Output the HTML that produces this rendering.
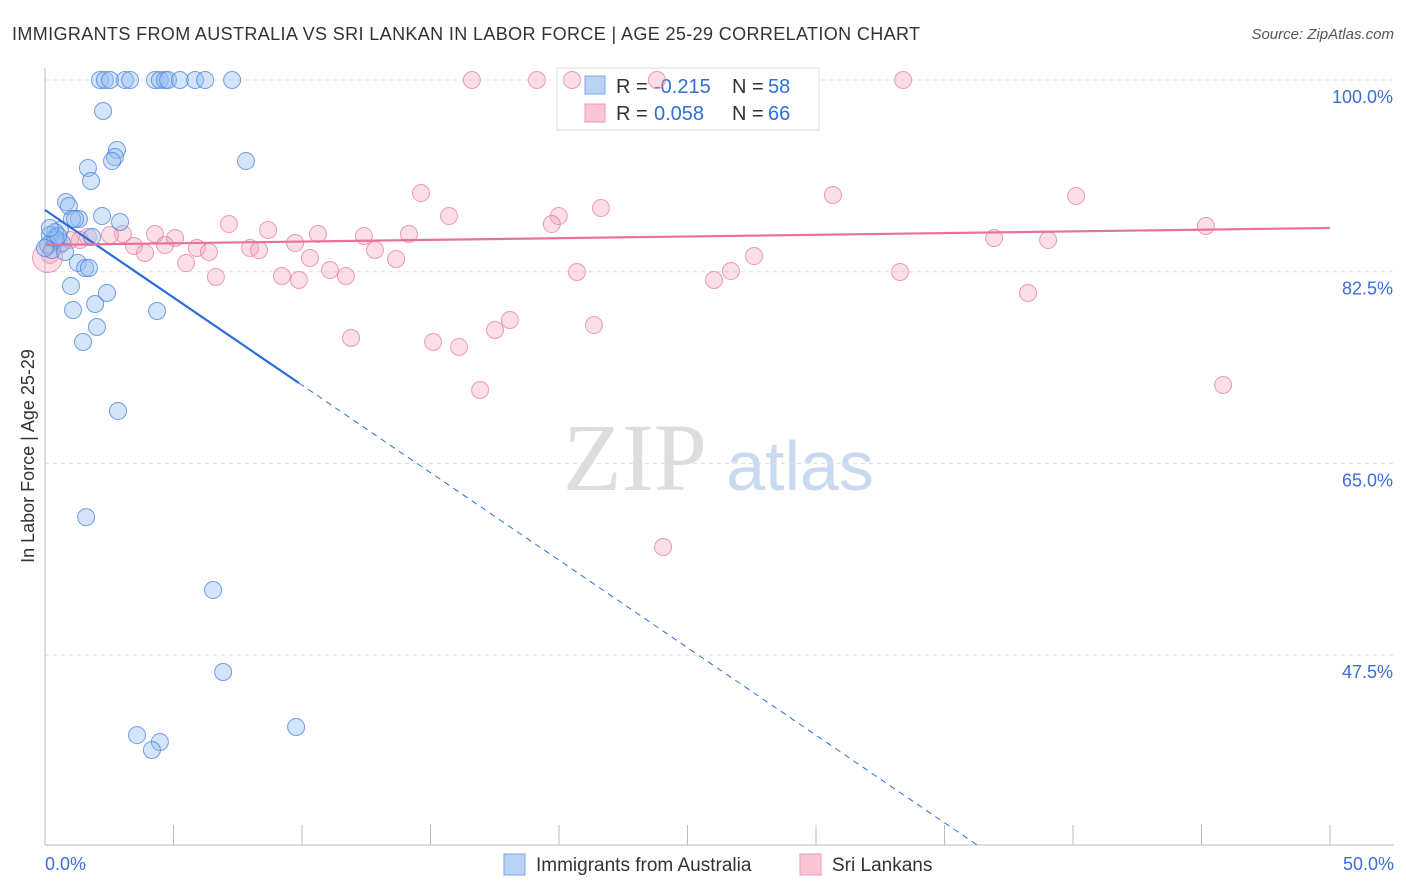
<!DOCTYPE html>
<html><head><meta charset="utf-8"><style>
body{margin:0;background:#fff;font-family:"Liberation Sans",sans-serif}
svg{display:block}
</style></head><body>
<svg id="c" width="1406" height="892">
<text x="12" y="40" font-size="18" fill="#333" textLength="908">IMMIGRANTS FROM AUSTRALIA VS SRI LANKAN IN LABOR FORCE | AGE 25-29 CORRELATION CHART</text>
<text x="1394" y="39" font-size="15" fill="#555" text-anchor="end" font-style="italic">Source: ZipAtlas.com</text>
<text x="635" y="490" font-size="96" fill="#ddd" font-family="Liberation Serif" text-anchor="middle">ZIP</text>
<text x="800" y="490" font-size="70" fill="#c9daf0" text-anchor="middle">atlas</text>
<text transform="translate(34,456) rotate(-90)" font-size="18" fill="#333" text-anchor="middle">In Labor Force | Age 25-29</text>
<g id="grid"></g>
<g>
<rect x="557" y="68" width="262" height="62" fill="#fff" stroke="#ddd"/>
<rect x="585" y="76" width="20" height="18" fill="#b8d3f5" stroke="#7aa7e6"/>
<rect x="585" y="104" width="20" height="18" fill="#f9c6d5" stroke="#ee99b3"/>
<text y="93" font-size="20" fill="#333"><tspan x="616">R =</tspan><tspan x="654" fill="#2f6fd6">-0.215</tspan><tspan x="732">N =</tspan><tspan x="768" fill="#2f6fd6">58</tspan></text>
<text y="120" font-size="20" fill="#333"><tspan x="616">R =</tspan><tspan x="654" fill="#2f6fd6">0.058</tspan><tspan x="732">N =</tspan><tspan x="768" fill="#2f6fd6">66</tspan></text>
</g>
<g id="marks"></g>
<g>
<rect x="504" y="854" width="21" height="21" fill="#b8d3f5" stroke="#7aa7e6"/>
<text x="536" y="871" font-size="19" fill="#333">Immigrants from Australia</text>
<rect x="800" y="854" width="21" height="21" fill="#f9c6d5" stroke="#ee99b3"/>
<text x="832" y="871" font-size="19" fill="#333">Sri Lankans</text>
</g>
</svg>
<script>
const yTicks=[100,82.5,65,47.5];
const yTickLabels=["100.0%","82.5%","65.0%","47.5%"];
const xTickLabels=["0.0%","50.0%"];
const blueX=[2.14,2.33,2.53,3.11,3.31,4.28,4.47,4.67,4.79,5.25,5.84,6.23,7.28,2.26,2.80,2.72,2.61,7.82,1.67,1.79,0.82,0.93,2.22,2.92,1.32,1.05,1.17,0.58,0.39,0.19,0.43,0.66,0.12,0.27,0.78,1.28,1.56,1.71,1.01,2.41,1.95,1.09,4.36,2.02,1.48,2.84,1.6,6.54,6.93,3.58,4.47,4.16,9.77,0.39,0.51,0,0.19,1.83];
const blueY=[100,100,100,100,100,100,100,100,100,100,100,100,100,97.17,93.61,92.97,92.6,92.6,91.97,90.78,88.86,88.5,87.58,87.04,87.31,87.31,87.31,86.31,86.12,85.85,85.39,85.12,84.94,84.48,84.3,83.3,82.84,82.84,81.2,80.56,79.55,79.0,78.91,77.45,76.08,69.78,60.1,53.44,45.96,40.2,39.57,38.84,40.94,85.58,85.76,84.66,86.49,85.67];
const pinkX=[16.61,19.14,20.51,23.81,33.39,14.63,30.66,40.12,21.63,15.72,19.99,19.72,45.17,7.16,4.28,5.06,3.03,2.53,1.67,8.68,10.62,12.41,14.16,36.93,39.03,3.46,4.67,5.91,7.98,8.33,9.73,3.89,6.38,5.49,10.31,11.09,11.71,13.66,12.84,20.7,26.69,27.59,33.27,6.65,9.22,9.88,26.03,38.25,18.09,21.36,17.51,11.91,15.1,16.11,16.93,45.84,24.05,1.36,0.58,0.19,0.97,0.1];
const pinkY=[100,100,100,100,100,89.68,89.5,89.41,88.31,87.58,87.58,86.85,86.67,86.85,85.94,85.58,85.94,85.85,85.67,86.31,85.94,85.76,85.94,85.58,85.39,84.85,84.94,84.66,84.66,84.48,85.12,84.21,84.3,83.29,83.75,82.65,82.11,83.66,84.48,82.47,82.56,83.93,82.47,82.02,82.11,81.74,81.74,80.56,78.09,77.63,77.18,76.45,76.08,75.63,71.7,72.16,57.37,85.39,84.94,84.02,85.39,83.8];
const pinkR=[8.5,8.5,8.5,8.5,8.5,8.5,8.5,8.5,8.5,8.5,8.5,8.5,8.5,8.5,8.5,8.5,8.5,8.5,8.5,8.5,8.5,8.5,8.5,8.5,8.5,8.5,8.5,8.5,8.5,8.5,8.5,8.5,8.5,8.5,8.5,8.5,8.5,8.5,8.5,8.5,8.5,8.5,8.5,8.5,8.5,8.5,8.5,8.5,8.5,8.5,8.5,8.5,8.5,8.5,8.5,8.5,8.5,8.5,8.5,8.5,8.5,15];
const blueTrend=[0,88.13,9.88,72.34];
const pinkTrend=[0,84.94,50,86.49];
const X=v=>45+v/50*1285, Y=v=>80+(100-v)/17.5*191.7;
const NS="http://www.w3.org/2000/svg";
function mk(t,a,p){const e=document.createElementNS(NS,t);for(const k in a)e.setAttribute(k,a[k]);p.appendChild(e);return e;}
const g=document.getElementById('grid'),m=document.getElementById('marks');
yTicks.forEach((t,i)=>{
 const l=mk('line',{x1:45,x2:1394,y1:Y(t),y2:Y(t),stroke:'#ddd','stroke-dasharray':'4,4'},g);
 
 
 const tx=mk('text',{x:1393,y:Y(t)+23,'font-size':18,fill:'#3b6fd4','text-anchor':'end'},g);
 tx.textContent=yTickLabels[i];
 
 
});
const ax=mk('line',{x1:45,x2:45,y1:68,y2:845,stroke:'#bbb'},g);


const bx=mk('line',{x1:45,x2:1394,y1:845,y2:845,stroke:'#bbb'},g);


for(let i=0;i<=10;i++){const t=mk('line',{x1:X(i*5),x2:X(i*5),y1:825,y2:845,stroke:'#bbb'},g);
 
 }
[[0,'start',45],[1,'end',1394]].forEach(([i,a,x])=>{const t=mk('text',{x:x,y:870,'font-size':18,fill:'#3b6fd4','text-anchor':a},g);t.textContent=xTickLabels[i];
 
 });
pinkX.forEach((v,i)=>{const c=mk('circle',{cx:X(v),cy:Y(pinkY[i]),r:pinkR[i],fill:'rgba(244,160,185,0.35)',stroke:'rgba(230,120,155,0.7)'},m);
 
 });
blueX.forEach((v,i)=>{const c=mk('circle',{cx:X(v),cy:Y(blueY[i]),r:8.5,fill:'rgba(150,190,240,0.4)',stroke:'rgba(70,130,220,0.75)'},m);
 
 });
const s=(blueTrend[3]-blueTrend[1])/(blueTrend[2]-blueTrend[0]);
const yb=100-765/191.7*17.5, xe=blueTrend[0]+(yb-blueTrend[1])/s;
const bl=mk('line',{x1:X(blueTrend[0]),y1:Y(blueTrend[1]),x2:X(blueTrend[2]),y2:Y(blueTrend[3]),stroke:'#2a6fd6','stroke-width':2.2},m);


const bd=mk('line',{x1:X(blueTrend[2]),y1:Y(blueTrend[3]),x2:X(xe),y2:Y(yb),stroke:'#2a6fd6','stroke-width':1,'stroke-dasharray':'6,5'},m);


const pl=mk('line',{x1:X(pinkTrend[0]),y1:Y(pinkTrend[1]),x2:X(pinkTrend[2]),y2:Y(pinkTrend[3]),stroke:'#e8739a','stroke-width':2.2},m);


</script>
</body></html>
